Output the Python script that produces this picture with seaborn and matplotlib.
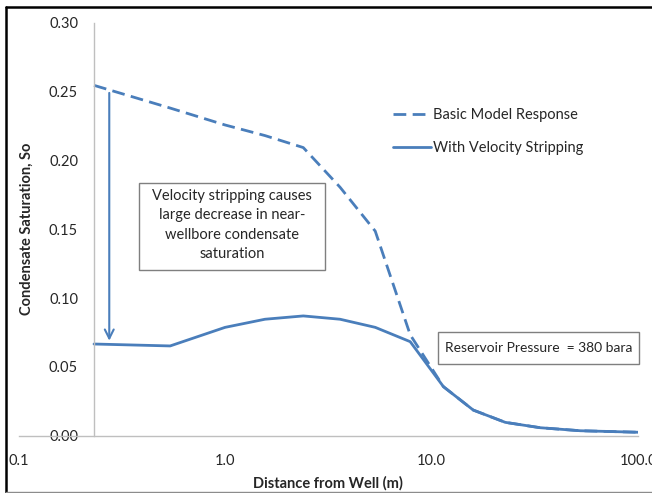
import numpy as np
import pandas as pd
import matplotlib
matplotlib.use("Agg")
import matplotlib.pyplot as plt
import seaborn as sns
from matplotlib.lines import Line2D
from matplotlib.patches import Rectangle
from matplotlib.ticker import FixedLocator, FixedFormatter, NullLocator

# Radial distance from the well (m)
distance = [0.232, 0.542, 1.0, 1.56, 2.39, 3.60, 5.33, 7.87, 11.4, 15.9, 22.7, 33.5, 52.4, 100.0]
# Condensate saturation without velocity stripping
basic_model = [0.2545, 0.238, 0.2257, 0.218, 0.2093, 0.1805, 0.1486, 0.0733,
               0.0356, 0.0186, 0.0097, 0.0058, 0.0036, 0.0025]
# Condensate saturation with velocity stripping
velocity_stripping = [0.0666, 0.0652, 0.0787, 0.0846, 0.0870, 0.0846, 0.0787, 0.0683,
                      0.0356, 0.0186, 0.0097, 0.0058, 0.0036, 0.0025]

series_names = ["Basic Model Response", "With Velocity Stripping"]
x_ticks = [0.1, 1.0, 10.0, 100.0]
x_tick_labels = ["0.1", "1.0", "10.0", "100.0"]
y_ticks = [0.0, 0.05, 0.10, 0.15, 0.20, 0.25, 0.30]
y_tick_labels = ["0.00", "0.05", "0.10", "0.15", "0.20", "0.25", "0.30"]

df = pd.DataFrame({
    "distance": distance * 2,
    "saturation": basic_model + velocity_stripping,
    "case": [series_names[0]] * len(distance) + [series_names[1]] * len(distance),
})

sns.set_theme(style="white")
plt.rcParams["font.family"] = ["Lato", "DejaVu Sans"]

W, H = 652, 493
fig = plt.figure(figsize=(W / 100, H / 100), dpi=100)
fig.patch.set_facecolor("white")

# axes box in pixels: x 18.5..638.3, y 22.7..435.7
L, R, T, B = 18.5, 638.3, 22.7, 435.7
ax = fig.add_axes([L / W, 1 - B / H, (R - L) / W, (B - T) / H])
ax.set_facecolor("white")

BLUE = "#4A7EBB"
AXIS_GREY = "#BFBFBF"
TEXT = "#262626"

sub = df[df["case"] == series_names[0]]
sns.lineplot(data=sub, x="distance", y="saturation", ax=ax, color=BLUE, lw=2.0,
             linestyle=(0, (4.6, 2.3)), errorbar=None, legend=False)
sub = df[df["case"] == series_names[1]]
sns.lineplot(data=sub, x="distance", y="saturation", ax=ax, color=BLUE, lw=2.0,
             errorbar=None, legend=False)

ax.set_xscale("log")
ax.set_xlim(0.1, 100)
ax.set_ylim(0, 0.30)

ax.xaxis.set_major_locator(FixedLocator(x_ticks))
ax.xaxis.set_major_formatter(FixedFormatter(x_tick_labels))
ax.xaxis.set_minor_locator(NullLocator())
ax.yaxis.set_major_locator(FixedLocator(y_ticks))
ax.yaxis.set_major_formatter(FixedFormatter(y_tick_labels))

for s in ["top", "right"]:
    ax.spines[s].set_visible(False)
ax.spines["left"].set_position(("data", distance[0]))
for s in ["left", "bottom"]:
    ax.spines[s].set_color(AXIS_GREY)
    ax.spines[s].set_linewidth(1.0)

ax.tick_params(axis="both", which="major", direction="out", length=4.5, width=1.0,
               color=AXIS_GREY, labelcolor=TEXT, labelsize=10.5)
ax.tick_params(axis="y", pad=7)
ax.tick_params(axis="x", pad=9)

ax.set_xlabel("Distance from Well (m)", fontsize=10.5, fontweight="bold", color=TEXT)
ax.set_ylabel("Condensate Saturation, So", fontsize=10.5, fontweight="bold", color=TEXT)
ax.xaxis.set_label_coords(0.5, (B - 476.5) / (B - T))
ax.yaxis.set_label_coords((34 - L) / (R - L), 0.5)

def ax_xy(px, py):
    return ((px - L) / (R - L), (B - py) / (B - T))

# legend without frame
handles = [Line2D([], [], color=BLUE, lw=2.0, linestyle=(0, (4.6, 2.3))),
           Line2D([], [], color=BLUE, lw=2.0)]
leg = ax.legend(handles, series_names, loc="upper left", bbox_to_anchor=ax_xy(392.7, 108.5),
                frameon=False, fontsize=10.5, handlelength=2.6, handletextpad=0.15,
                labelspacing=1.28, borderpad=0, borderaxespad=0)
for t in leg.get_texts():
    t.set_color(TEXT)

# explanatory box
x0, y0 = ax_xy(139.3, 270)
x1, y1 = ax_xy(325, 182.7)
ax.add_patch(Rectangle((x0, y0), x1 - x0, y1 - y0, transform=ax.transAxes,
                       facecolor="white", edgecolor="#7F7F7F", lw=1.0, zorder=3))
ax.text((x0 + x1) / 2, (y0 + y1) / 2 + 0.003,
        "Velocity stripping causes\nlarge decrease in near-\nwellbore condensate\nsaturation",
        transform=ax.transAxes, ha="center", va="center", fontsize=10.5,
        linespacing=1.5, color=TEXT, zorder=4)

# arrow from the basic response down to the stripped response
ax.annotate("", xy=(0.275, 0.069), xytext=(0.275, 0.249),
            arrowprops=dict(arrowstyle="->", color=BLUE, lw=1.5, shrinkA=0, shrinkB=0,
                            mutation_scale=16))

# reservoir pressure box
x0, y0 = ax_xy(438.3, 364)
x1, y1 = ax_xy(639, 331.7)
ax.add_patch(Rectangle((x0, y0), x1 - x0, y1 - y0, transform=ax.transAxes,
                       facecolor="white", edgecolor="#7F7F7F", lw=1.0, zorder=3,
                       clip_on=False))
ax.text((x0 + x1) / 2, (y0 + y1) / 2, "Reservoir Pressure  = 380 bara",
        transform=ax.transAxes, ha="center", va="center", fontsize=10,
        color=TEXT, zorder=4)

# outer frame
fig.add_artist(Line2D([5.5 / W, 5.5 / W], [1 - 7 / H, 1 - 491.5 / H], color="black", lw=1.8,
                      transform=fig.transFigure))
fig.add_artist(Line2D([5.5 / W, 1.0], [1 - 7 / H, 1 - 7 / H], color="black", lw=1.8,
                      transform=fig.transFigure))
fig.add_artist(Line2D([5.5 / W, 1.0], [1 - 491.5 / H, 1 - 491.5 / H], color="#8C8C8C", lw=1.0,
                      transform=fig.transFigure))

fig.savefig("out.png", dpi=100, facecolor="white")
